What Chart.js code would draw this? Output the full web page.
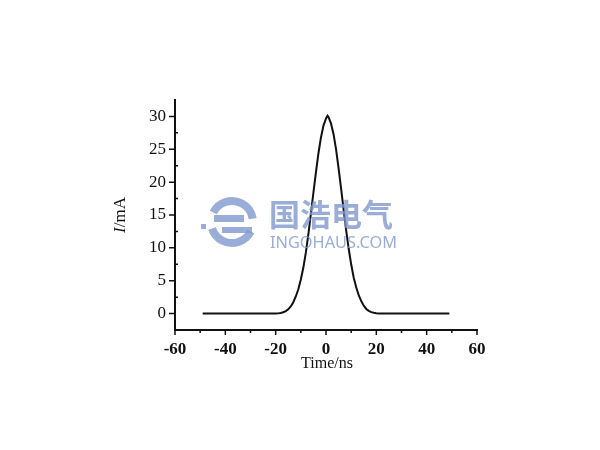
<!DOCTYPE html>
<html>
<head>
<meta charset="utf-8">
<script src="https://cdn.jsdelivr.net/npm/chart.js@4/dist/chart.umd.min.js"></script>
<style>
  html, body { margin: 0; padding: 0; background: #fff; }
</style>
</head>
<body>
<canvas id="pulseChart" width="600" height="450"></canvas>
<script>
// values
const timeNs = [-49, -40, -30, -20, -19, -18, -17, -16, -15, -14, -13, -12, -11, -10, -9, -8, -7, -6, -5, -4, -3, -2, -1, 0, 0.6,
                1, 2, 3, 4, 5, 6, 7, 8, 9, 10, 11, 12, 13, 14, 15, 16, 17, 18, 19, 20, 21, 30, 40, 49];
const currentMa = [0, 0, 0, 0, 0.03, 0.1, 0.2, 0.38, 0.64, 1.08, 1.72, 2.6, 3.7, 5.2, 7.0, 9.3, 12.1, 15.2, 18.4, 21.5, 24.4, 26.8, 28.6, 29.7, 30.1,
                   29.9, 28.9, 27.3, 25.0, 22.1, 19.0, 15.8, 12.7, 9.9, 7.5, 5.5, 4.0, 2.8, 1.9, 1.2, 0.7, 0.42, 0.22, 0.12, 0.04, 0, 0, 0, 0];
const xTicks = [-60, -40, -20, 0, 20, 40, 60];
const xMinorTicks = [-50, -30, -10, 10, 30, 50];
const yTicks = [0, 5, 10, 15, 20, 25, 30];
const yMinorTicks = [2.5, 7.5, 12.5, 17.5, 22.5, 27.5];

const serif = '"Liberation Serif", "DejaVu Serif", serif';

// tick marks, axis titles and the watermark
const decorPlugin = {
    id: 'decor',
    afterDraw(chart) {
        const ctx = chart.ctx;
        const xs = chart.scales.x;
        const ys = chart.scales.y;
        const area = chart.chartArea;
        ctx.save();
        ctx.strokeStyle = '#111';
        ctx.lineWidth = 1.5;
        ctx.beginPath();
        // y major ticks point out, minor ticks point in
        yTicks.forEach(v => {
            const py = ys.getPixelForValue(v);
            ctx.moveTo(area.left - 6, py);
            ctx.lineTo(area.left, py);
        });
        yMinorTicks.forEach(v => {
            const py = ys.getPixelForValue(v);
            ctx.moveTo(area.left, py);
            ctx.lineTo(area.left + 3, py);
        });
        xTicks.forEach(v => {
            const px = xs.getPixelForValue(v);
            ctx.moveTo(px, area.bottom);
            ctx.lineTo(px, area.bottom + 5);
        });
        xMinorTicks.forEach(v => {
            const px = xs.getPixelForValue(v);
            ctx.moveTo(px, area.bottom);
            ctx.lineTo(px, area.bottom + 3);
        });
        ctx.stroke();

        // y title: italic I then /mA, rotated
        ctx.fillStyle = '#111';
        ctx.translate(121, (area.top + area.bottom) / 2);
        ctx.rotate(-Math.PI / 2);
        ctx.textBaseline = 'middle';
        ctx.font = 'italic 17px ' + serif;
        const wI = ctx.measureText('I').width;
        ctx.font = '17px ' + serif;
        const wRest = ctx.measureText('/mA').width;
        const start = -(wI + wRest) / 2;
        ctx.textAlign = 'left';
        ctx.font = 'italic 17px ' + serif;
        ctx.fillText('I', start, 0);
        ctx.font = '17px ' + serif;
        ctx.fillText('/mA', start + wI, 0);
        ctx.restore();

        // x title
        ctx.save();
        ctx.fillStyle = '#111';
        ctx.font = '16px ' + serif;
        ctx.textAlign = 'center';
        ctx.textBaseline = 'middle';
        ctx.fillText('Time/ns', xs.getPixelForValue(0) + 1, 364);
        ctx.restore();

        // watermark
        ctx.save();
        const wm = 'rgba(128, 152, 206, 0.8)';
        ctx.strokeStyle = wm;
        ctx.fillStyle = wm;
        ctx.lineWidth = 8;
        ctx.beginPath();
        ctx.arc(232, 222, 21, Math.PI * 1.15, Math.PI * 1.95);
        ctx.stroke();
        ctx.beginPath();
        ctx.arc(232, 222, 21, Math.PI * 0.15, Math.PI * 0.9);
        ctx.stroke();
        ctx.fillRect(214, 215, 30, 7);
        ctx.fillRect(222, 227, 30, 6);
        ctx.fillRect(201, 224, 5, 5);
        ctx.font = 'bold 31px "Noto Sans CJK SC"';
        ctx.textAlign = 'left';
        ctx.textBaseline = 'middle';
        ctx.fillText('国浩电气', 269, 214);
        ctx.font = '17px "Noto Sans", "Open Sans", sans-serif';
        const label = 'INGOHAUS.COM';
        const w = ctx.measureText(label).width;
        ctx.translate(270, 243);
        ctx.scale(127 / w, 1);
        ctx.fillText(label, 0, 0);
        ctx.restore();
    }
};

new Chart(document.getElementById('pulseChart'), {
    type: 'line',
    data: {
        datasets: [{
            data: timeNs.map((t, i) => ({ x: t, y: currentMa[i] })),
            borderColor: '#111',
            borderWidth: 2,
            pointRadius: 0,
            tension: 0,
            fill: false
        }]
    },
    options: {
        responsive: false,
        animation: false,
        devicePixelRatio: 1,
        layout: { padding: { left: 100, top: 100, right: 123, bottom: 70 } },
        plugins: {
            legend: { display: false },
            tooltip: { enabled: false }
        },
        scales: {
            x: {
                type: 'linear',
                min: -60,
                max: 60,
                afterBuildTicks: scale => { scale.ticks = xTicks.map(v => ({ value: v })); },
                afterFit: scale => { scale.height = 50; },
                grid: { display: false, drawTicks: false },
                border: { display: true, color: '#111', width: 2 },
                ticks: {
                    padding: 9,
                    color: '#111',
                    maxRotation: 0,
                    font: { family: serif, size: 17, weight: 'bold' }
                }
            },
            y: {
                min: -2.5,
                max: 32.5,
                afterBuildTicks: scale => { scale.ticks = yTicks.map(v => ({ value: v })); },
                afterFit: scale => { scale.width = 75; },
                grid: { display: false, drawTicks: false },
                border: { display: true, color: '#111', width: 2 },
                ticks: {
                    padding: 9,
                    color: '#111',
                    font: { family: serif, size: 17 }
                }
            }
        }
    },
    plugins: [decorPlugin]
});
</script>
</body>
</html>
